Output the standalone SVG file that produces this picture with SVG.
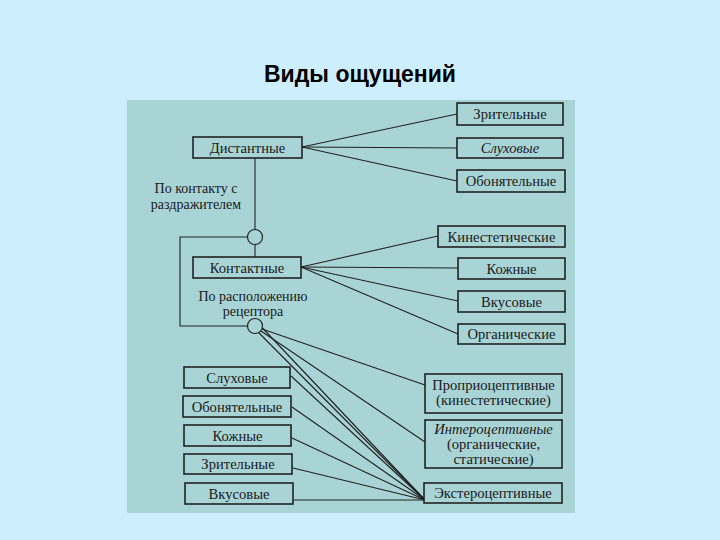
<svg xmlns="http://www.w3.org/2000/svg" width="720" height="540" viewBox="0 0 720 540">
<style>
.box{fill:#a9d4d6;stroke:#222;stroke-width:1.6}
.t{font-family:"Liberation Serif","DejaVu Serif",serif;font-size:14.6px;fill:#1a1a1a;text-anchor:middle}
.s{font-size:14px}
.i{font-style:italic}
.ln{stroke:#222;stroke-width:1.1;fill:none}
.title{font-family:"Liberation Sans",Arial,sans-serif;font-size:23px;font-weight:bold;fill:#000;text-anchor:middle}
</style>
<rect x="0" y="0" width="720" height="540" fill="#cdeefd"/>
<text class="title" x="360" y="82">Виды ощущений</text>
<rect x="127" y="100" width="448" height="413" fill="#a9d4d6"/>
<g id="connectors">
<line class="ln" x1="302" y1="147" x2="457" y2="114"/>
<line class="ln" x1="302" y1="147" x2="457" y2="148"/>
<line class="ln" x1="302" y1="147" x2="457" y2="181"/>
<line class="ln" x1="301" y1="267" x2="438" y2="236"/>
<line class="ln" x1="301" y1="267" x2="458" y2="268"/>
<line class="ln" x1="301" y1="267" x2="458" y2="301"/>
<line class="ln" x1="301" y1="267" x2="458" y2="334"/>
<line class="ln" x1="255" y1="158" x2="255" y2="229.5"/>
<line class="ln" x1="255" y1="244.5" x2="255" y2="257"/>
<polyline class="ln" points="247.5,237 180,237 180,326 247.5,326"/>
<line class="ln" x1="262" y1="329" x2="425" y2="385"/>
<line class="ln" x1="261" y1="331" x2="425" y2="442"/>
<line class="ln" x1="259" y1="333" x2="425" y2="500"/>
<line class="ln" x1="262.5" y1="328" x2="425" y2="500"/>
<line class="ln" x1="291" y1="376" x2="425" y2="500"/>
<line class="ln" x1="292" y1="407" x2="425" y2="500"/>
<line class="ln" x1="292" y1="438" x2="425" y2="500"/>
<line class="ln" x1="293" y1="468" x2="425" y2="500"/>
<line class="ln" x1="293" y1="500" x2="425" y2="500"/>
</g>
<g id="circle-contact"><circle cx="255" cy="237" r="7.5" fill="#a9d4d6" stroke="#222" stroke-width="1.2"/></g>
<g id="circle-receptor"><circle cx="255" cy="326" r="7.5" fill="#a9d4d6" stroke="#222" stroke-width="1.2"/></g>
<g id="label-contact"><text class="t s" x="196" y="193">По контакту с</text><text class="t s" x="196" y="209">раздражителем</text></g>
<g id="label-receptor"><text class="t s" x="253" y="301">По расположению</text><text class="t s" x="253" y="316">рецептора</text></g>
<g id="distant"><rect class="box" x="193" y="137" width="109" height="21"/><text class="t" x="247.5" y="152.5">Дистантные</text></g>
<g id="contact"><rect class="box" x="193" y="257" width="108" height="21"/><text class="t" x="247" y="272.5">Контактные</text></g>
<g id="r-vision"><rect class="box" x="457" y="103" width="106" height="22"/><text class="t" x="510" y="118.5">Зрительные</text></g>
<g id="r-hearing"><rect class="box" x="457" y="138" width="106" height="20"/><text class="t i" x="510" y="153">Слуховые</text></g>
<g id="r-smell"><rect class="box" x="457" y="170" width="108" height="22"/><text class="t" x="511" y="186">Обонятельные</text></g>
<g id="r-kinest"><rect class="box" x="438" y="226" width="127" height="21"/><text class="t" x="501.5" y="241.5">Кинестетические</text></g>
<g id="r-skin"><rect class="box" x="458" y="258" width="107" height="21"/><text class="t" x="511.5" y="273.5">Кожные</text></g>
<g id="r-taste"><rect class="box" x="458" y="291" width="107" height="21"/><text class="t" x="511.5" y="306.5">Вкусовые</text></g>
<g id="r-organic"><rect class="box" x="458" y="324" width="107" height="20"/><text class="t" x="511.5" y="339">Органические</text></g>
<g id="l-hearing"><rect class="box" x="184" y="367" width="106" height="21"/><text class="t" x="237" y="382.5">Слуховые</text></g>
<g id="l-smell"><rect class="box" x="183" y="396" width="108" height="21"/><text class="t" x="237" y="411.5">Обонятельные</text></g>
<g id="l-skin"><rect class="box" x="184" y="425" width="107" height="21"/><text class="t" x="237.5" y="440.5">Кожные</text></g>
<g id="l-vision"><rect class="box" x="184" y="454" width="108" height="20"/><text class="t" x="238" y="469">Зрительные</text></g>
<g id="l-taste"><rect class="box" x="185" y="483" width="108" height="21"/><text class="t" x="239" y="498.5">Вкусовые</text></g>
<g id="propriocept"><rect class="box" x="425" y="374" width="137" height="39"/><text class="t" x="493.5" y="390">Проприоцептивные</text><text class="t" x="493.5" y="405">(кинестетические)</text></g>
<g id="interocept"><rect class="box" x="425" y="420" width="137" height="48"/><text class="t i" x="493.5" y="434">Интероцептивные</text><text class="t" x="493.5" y="449">(органические,</text><text class="t" x="493.5" y="464">статические)</text></g>
<g id="exterocept"><rect class="box" x="424" y="483" width="138" height="20"/><text class="t" x="493" y="498">Экстероцептивные</text></g>
</svg>
